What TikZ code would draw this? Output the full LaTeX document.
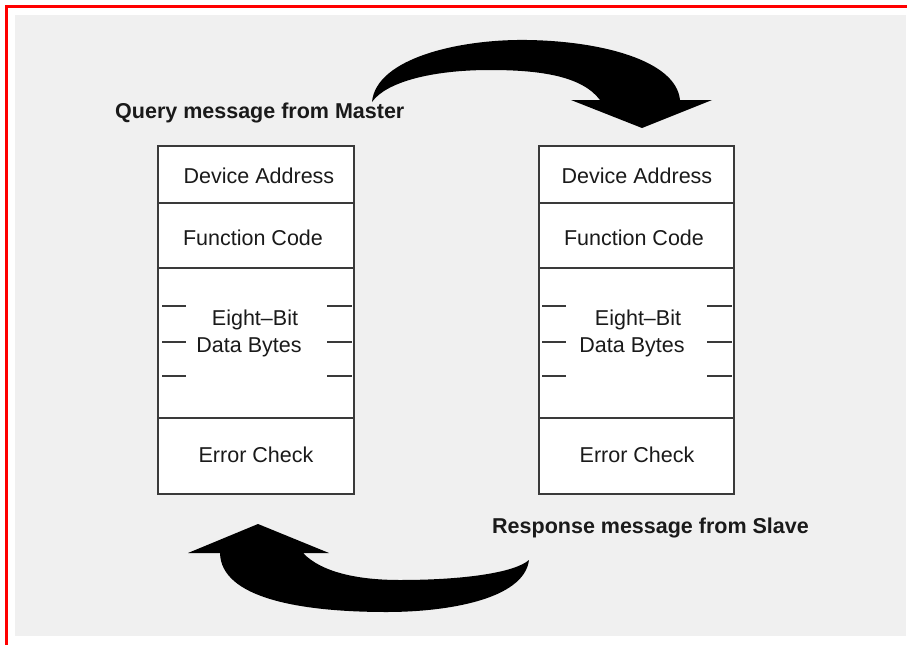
\documentclass[tikz,border=0pt]{standalone}
\usepackage{fontspec}
\setmainfont{Liberation Sans}
\definecolor{bggray}{HTML}{F0F0F0}
\definecolor{framered}{HTML}{FF0000}
\definecolor{inkc}{HTML}{1A1A1A}
\definecolor{linec}{HTML}{3A3A3A}
\tikzset{
  field/.style={font=\fontsize{21.5}{24}\selectfont, text=inkc, inner sep=0pt, align=center},
  caption/.style={font=\fontsize{21.5}{24}\selectfont\bfseries, text=inkc, inner sep=0pt, anchor=west},
  boxline/.style={draw=linec, line width=1.1pt},
  tick/.style={draw=linec, line width=1.1pt},
  bigarrow/.style={fill=black, draw=none}
}
\begin{document}
\begin{tikzpicture}[x=1pt,y=-1pt]
\useasboundingbox (0,0) rectangle (907,645);
\fill[white] (0,0) rectangle (907,645);
\fill[bggray] (15,15) rectangle (906,636);
\draw[framered, line width=2.6pt] (5,6.5) -- (907,6.5);
\draw[framered, line width=2.6pt] (6.5,5) -- (6.5,645);

% left frame
\filldraw[fill=white, boxline] (158,146) rectangle (354,494);
\draw[boxline] (158,203) -- (354,203);
\draw[boxline] (158,268) -- (354,268);
\draw[boxline] (158,418) -- (354,418);
\foreach \yy in {306,342,376} {
  \draw[tick] (162,\yy) -- (186,\yy);
  \draw[tick] (327,\yy) -- (352,\yy);
}
\node[field] (lda) at (259,176) {Device Address};
\node[field] (lfc) at (253,238) {Function Code};
\node[field] (leb) at (255,320) {Eight--Bit};
\node[field] (ldb) at (249,347) {Data Bytes};
\node[field] (lec) at (256,455) {Error Check};

% right frame
\filldraw[fill=white, boxline] (539,146) rectangle (734,494);
\draw[boxline] (539,203) -- (734,203);
\draw[boxline] (539,268) -- (734,268);
\draw[boxline] (539,418) -- (734,418);
\foreach \yy in {306,342,376} {
  \draw[tick] (542,\yy) -- (566,\yy);
  \draw[tick] (707,\yy) -- (732,\yy);
}
\node[field] (rda) at (637,176) {Device Address};
\node[field] (rfc) at (634,238) {Function Code};
\node[field] (reb) at (638,320) {Eight--Bit};
\node[field] (rdb) at (632,347) {Data Bytes};
\node[field] (rec) at (637,455) {Error Check};

% captions
\node[caption] (query) at (115,113) {Query message from Master};
\node[caption] (resp) at (492,528) {Response message from Slave};

% top curved arrow
\fill[bigarrow] (372,102)
  .. controls (376,58) and (460,39) .. (527,40)
  .. controls (600,41) and (676,60) .. (680,100)
  -- (712,100) -- (642,128) -- (571,100) -- (600,100)
  .. controls (582,76) and (540,70) .. (490,70)
  .. controls (432,70) and (386,82) .. (372,102) -- cycle;

% bottom curved arrow
\fill[bigarrow] (529,560)
  .. controls (524,600) and (445,612) .. (387,612)
  .. controls (300,612) and (221,598) .. (220,553)
  -- (188,553) -- (258,524) -- (329,553) -- (303,553)
  .. controls (322,573) and (360,580) .. (400,580)
  .. controls (462,580) and (514,573) .. (529,560) -- cycle;
\end{tikzpicture}
\end{document}
